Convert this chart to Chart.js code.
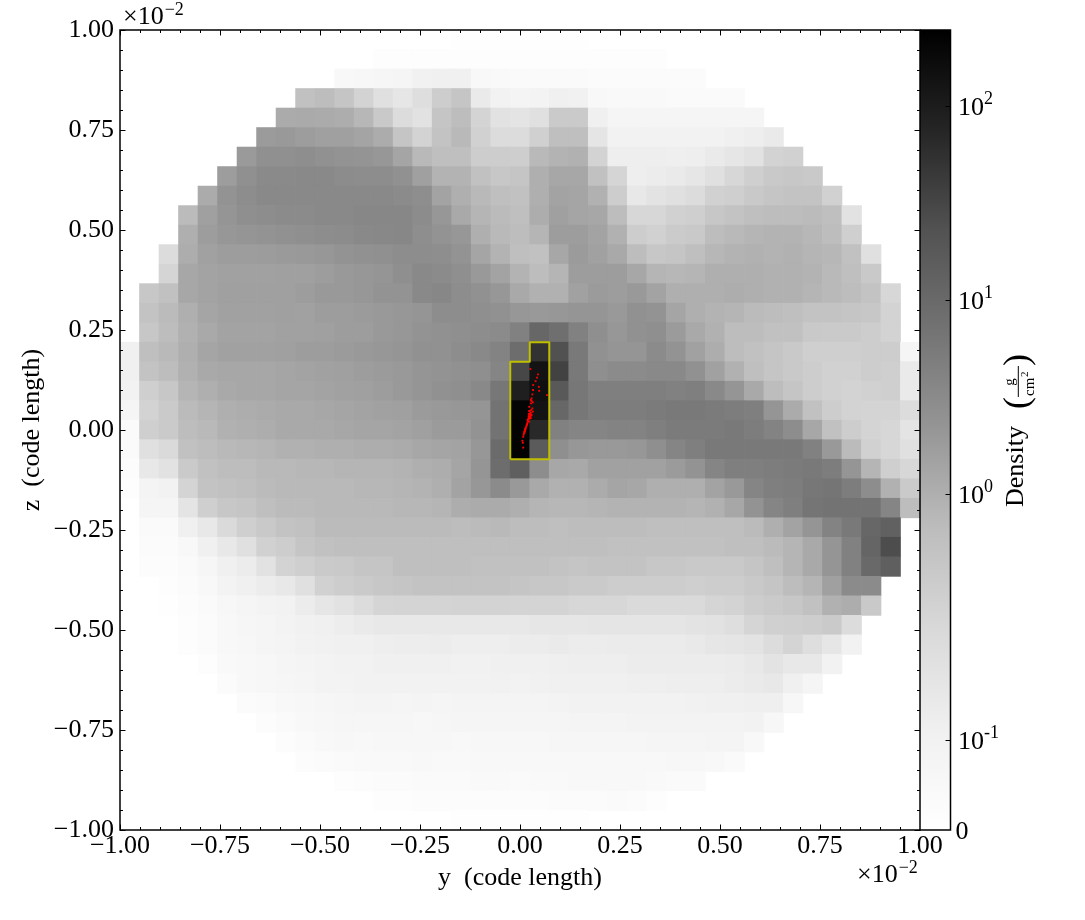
<!DOCTYPE html>
<html>
<head>
<meta charset="utf-8">
<title>Density projection</title>
<script src="https://cdn.jsdelivr.net/npm/chart.js@4/dist/chart.umd.min.js"></script>
<style>
  html, body { margin: 0; padding: 0; background: #fff; }
  #wrap { position: relative; width: 1085px; height: 920px; overflow: hidden; }
  #chartMain { position: absolute; left: 0; top: 0; }
  #chartBar { position: absolute; left: 920px; top: 0; }
</style>
</head>
<body>
<div id="wrap">
  <canvas id="chartMain" width="1085" height="920"></canvas>
  <canvas id="chartBar" width="165" height="920"></canvas>
</div>
<script>
// ===== Data =====
// density per cell (g/cm2), top row first, left to right, 41 x 41. 0 = empty
const densityRows = [
  [0,0,0,0,0,0,0,0,0,0,0,0,0,0,0,0,0,.008,.008,.008,.008,.008,.008,.008,0,0,0,0,0,0,0,0,0,0,0,0,0,0,0,0,0],
  [0,0,0,0,0,0,0,0,0,0,0,0,0,.015,.015,.015,.015,.015,.015,.015,.015,.015,.015,.015,.015,.015,.015,.015,0,0,0,0,0,0,0,0,0,0,0,0,0],
  [0,0,0,0,0,0,0,0,0,0,0,.052,.06,.068,.075,.105,.113,.113,.052,.045,.038,.038,.035,.035,.033,.033,.03,.03,.03,.03,0,0,0,0,0,0,0,0,0,0,0],
  [0,0,0,0,0,0,0,0,0,.55,.65,.47,.26,.19,.16,.2,.335,.47,.142,.098,.082,.09,.113,.105,.052,.045,.045,.045,.038,.038,.038,.038,0,0,0,0,0,0,0,0,0],
  [0,0,0,0,0,0,0,0,1.13,1.16,1.13,1.06,.78,.4,.21,.18,.47,.65,.245,.18,.17,.19,.37,.37,.113,.075,.075,.075,.075,.075,.075,.075,.075,0,0,0,0,0,0,0,0],
  [0,0,0,0,0,0,0,1.82,1.94,1.71,1.56,1.56,1.4,1.1,.47,.26,.51,.735,.28,.21,.21,.29,.6,.6,.167,.098,.098,.098,.098,.098,.1,.113,.123,.142,0,0,0,0,0,0,0],
  [0,0,0,0,0,0,1.88,2.6,2.6,2.8,2.5,2.36,2.28,2.07,1.35,.735,.6,.6,.335,.335,.32,.735,.88,.94,.26,.123,.123,.123,.117,.123,.142,.161,.18,.26,.28,0,0,0,0,0,0],
  [0,0,0,0,0,1.71,2.6,3.2,3.2,3.3,3.3,3,2.9,2.9,2.5,1.6,.88,.88,.55,.43,.47,1,1.27,1.27,.55,.24,.123,.132,.142,.161,.19,.23,.3,.4,.43,.4,0,0,0,0,0],
  [0,0,0,0,1.13,2.36,2.9,3.3,3.3,3.3,3.3,3.3,3.3,3.3,3.1,2.8,1.43,1,.735,.6,.55,1,1.43,1.35,.94,.335,.152,.172,.19,.21,.28,.3,.4,.47,.51,.51,.28,0,0,0,0],
  [0,0,0,.69,1.6,2.2,2.7,2.9,3.1,3.1,3.3,3.3,3.55,3.55,3.55,3,2.07,1.2,.83,.69,.6,1.06,1.6,1.35,1.27,.65,.23,.23,.28,.3,.43,.51,.6,.65,.65,.69,.6,.18,0,0,0],
  [0,0,0,1,1.71,2.07,2.2,2.36,2.5,2.7,2.9,3,3.3,3.45,3.55,2.8,2.36,2.07,1,.735,.65,.83,1.71,1.71,1.43,.94,.335,.28,.36,.4,.65,.735,.83,.88,.88,.78,.65,.3,0,0,0],
  [0,0,.21,1.06,1.52,1.71,1.71,1.76,1.88,1.94,2.07,2.36,2.5,2.6,2.9,2.9,2.8,2.36,1.35,.88,.6,.55,1.27,1.82,1.52,1.2,.65,.43,.47,.6,.78,.88,.94,.88,.94,.83,.78,.55,.19,0,0],
  [0,0,.24,1.27,1.43,1.52,1.52,1.52,1.56,1.6,1.71,1.94,2.07,2.2,2.7,3.3,3.1,2.7,1.94,1.43,.9,.65,.83,1.71,1.71,1.71,1.27,.83,.78,.83,1,1,1,.94,.94,.88,.735,.6,.4,0,0],
  [0,.43,.55,1.27,1.43,1.6,1.6,1.6,1.6,1.71,1.94,1.94,2.07,2.36,2.36,3.3,3.55,2.9,2.5,2.07,1.2,.94,.94,1.52,1.82,1.71,1.94,1.43,1,1,1,1.06,1,.94,.94,.83,.735,.65,.51,.23,0],
  [0,.51,.69,1,1.35,1.52,1.52,1.52,1.6,1.52,1.71,1.71,1.82,1.94,2.07,2.2,2.9,2.9,2.7,2.5,2.1,1.94,2.07,2.2,2.2,1.94,2.5,2.36,1.35,1,.88,.83,.69,.65,.6,.51,.51,.47,.43,.26,0],
  [0,.43,.65,.94,1.2,1.43,1.43,1.43,1.52,1.52,1.6,1.71,1.71,1.94,2.07,2.36,2.5,2.7,2.9,3.1,4.35,10.8,8.1,4.35,2.7,2.07,2.5,2.7,1.82,1.2,.94,.65,.65,.55,.55,.4,.37,.37,.335,.26,0],
  [.113,.6,.735,1,1.35,1.52,1.52,1.52,1.6,1.71,1.71,1.82,1.94,2.07,2.2,2.5,2.5,2.9,3.3,4.1,8.7,54,23.5,5.7,2.5,2.2,2.2,3.1,2.36,1.52,1.06,.65,.55,.47,.4,.31,.31,.31,.335,.335,.075],
  [.113,.51,.65,.94,1.2,1.27,1.27,1.27,1.35,1.43,1.52,1.6,1.71,1.82,1.94,2.2,2.36,2.5,2.7,3.8,31,133,35,5.7,2.7,3.1,3.1,3.3,3.3,2.5,1.52,.94,.6,.47,.4,.335,.28,.28,.335,.31,.142],
  [.098,.31,.43,.83,1,1.2,1.27,1.27,1.35,1.35,1.43,1.52,1.6,1.71,1.94,2.2,2.5,2.7,3.3,6.1,91,152,17.8,6.1,4.65,4.65,4.65,4.65,4.35,4.65,3.3,2.2,1.2,.65,.47,.335,.28,.26,.28,.31,.142],
  [.075,.26,.37,.69,.83,1,1.06,1.13,1.2,1.2,1.27,1.35,1.43,1.52,1.6,1.82,1.94,2.07,2.2,7.1,209,133,10.8,6.1,5,5,5,5.3,5.7,5.7,5.3,5,4.65,2.2,1.13,.55,.335,.26,.245,.245,.21],
  [.038,.3,.37,.65,.735,.94,1,1.06,1.2,1.2,1.2,1.27,1.35,1.35,1.43,1.6,1.82,1.82,2.36,7.1,225,67,4.35,3.8,3.8,4.1,4.1,4.65,5.3,5.3,5.3,5.7,5,4.1,2.9,1.27,.55,.335,.245,.23,.17],
  [.038,.19,.22,.55,.65,.735,.78,.83,.94,.94,1,1,1.06,1.06,1.13,1.27,1.35,1.43,2.07,9.4,225,16.6,2.7,2.07,1.94,1.94,2.07,2.7,3.8,4.65,5.7,5.7,5.7,5.7,5.7,4.35,1.94,.69,.28,.23,.19],
  [.023,.152,.18,.37,.55,.65,.65,.735,.735,.78,.78,.83,.83,.83,.88,1,1.06,1.35,2.2,8.7,14.3,2.9,1.27,1.2,1.52,1.52,1.52,1.52,1.85,2.36,3.8,4.65,4.65,5,5.3,5.7,5,2.2,.83,.31,.23],
  [.015,.082,.098,.25,.51,.55,.6,.69,.735,.735,.735,.735,.78,.78,.83,.88,1,1.43,2.07,3.1,1.94,1.2,.94,.94,1.13,1.35,1.27,1,1,1,1.43,1.94,3.8,4.65,5,6.1,6.5,5,2.9,.94,.37],
  [0,.075,.075,.17,.31,.43,.47,.6,.69,.69,.735,.735,.735,.735,.78,.78,.83,1.06,1.13,1.13,1,.83,.78,.78,.83,.88,.88,.88,.88,.83,.94,1.27,2.36,3.8,4.65,6.5,7.1,7.1,7.1,3.8,.65],
  [0,.038,.038,.113,.152,.22,.31,.4,.51,.55,.69,.69,.69,.69,.69,.69,.69,.65,.69,.735,.65,.65,.6,.65,.65,.65,.65,.6,.6,.6,.6,.6,.69,1,1.43,2.2,4.1,5.7,10.8,13.4,0],
  [0,.03,.03,.052,.113,.152,.19,.28,.335,.47,.55,.6,.6,.6,.6,.6,.6,.6,.6,.6,.6,.6,.6,.6,.6,.55,.55,.55,.55,.55,.55,.6,.6,.69,.83,1.2,2.2,4.35,11.7,26,0],
  [0,.023,.023,.038,.068,.113,.132,.18,.26,.31,.37,.4,.47,.47,.6,.6,.6,.6,.55,.55,.55,.55,.51,.47,.51,.51,.51,.43,.43,.4,.4,.4,.47,.6,.83,1.2,2.2,4.35,10,14.3,0],
  [0,0,.015,.03,.052,.09,.113,.132,.152,.19,.28,.335,.37,.43,.47,.51,.51,.51,.51,.51,.47,.43,.43,.37,.37,.335,.335,.335,.335,.31,.335,.335,.4,.47,.65,.83,1.6,3.1,3.1,0,0],
  [0,0,.008,.023,.038,.06,.075,.09,.098,.132,.161,.18,.21,.24,.245,.245,.245,.26,.26,.26,.245,.245,.245,.23,.23,.23,.22,.22,.22,.22,.24,.26,.335,.37,.43,.55,.94,1.06,.4,0,0],
  [0,0,0,.015,.03,.052,.068,.075,.09,.105,.113,.127,.142,.152,.152,.152,.152,.152,.152,.152,.152,.161,.161,.161,.167,.167,.167,.167,.167,.172,.177,.2,.24,.29,.31,.335,.37,.21,0,0,0],
  [0,0,0,.015,.03,.052,.06,.075,.082,.098,.105,.113,.113,.123,.127,.127,.132,.123,.123,.123,.132,.132,.142,.132,.132,.137,.137,.137,.137,.147,.161,.167,.172,.21,.245,.2,.161,.098,0,0,0],
  [0,0,0,0,.015,.045,.052,.06,.075,.082,.09,.098,.098,.113,.113,.113,.113,.105,.105,.113,.113,.113,.117,.123,.123,.123,.132,.132,.132,.132,.132,.137,.152,.172,.152,.152,.098,0,0,0,0],
  [0,0,0,0,0,.03,.052,.06,.068,.075,.09,.09,.098,.098,.098,.098,.098,.098,.098,.105,.098,.105,.113,.113,.113,.113,.117,.117,.123,.123,.123,.132,.142,.152,.113,.075,0,0,0,0,0],
  [0,0,0,0,0,0,.03,.038,.052,.06,.068,.075,.082,.082,.075,.082,.075,.082,.082,.082,.082,.082,.09,.098,.098,.098,.098,.098,.098,.105,.113,.113,.117,.117,.06,0,0,0,0,0,0],
  [0,0,0,0,0,0,0,.023,.038,.052,.06,.068,.068,.068,.068,.06,.068,.075,.075,.075,.075,.075,.075,.082,.082,.082,.09,.09,.09,.09,.09,.09,.098,.06,0,0,0,0,0,0,0],
  [0,0,0,0,0,0,0,0,.023,.038,.052,.06,.052,.06,.06,.06,.06,.052,.06,.06,.06,.06,.068,.068,.068,.068,.068,.075,.075,.075,.082,.082,.052,0,0,0,0,0,0,0,0],
  [0,0,0,0,0,0,0,0,0,.023,.03,.038,.045,.045,.045,.052,.045,.045,.052,.052,.052,.052,.052,.052,.052,.052,.052,.052,.06,.06,.052,.038,0,0,0,0,0,0,0,0,0],
  [0,0,0,0,0,0,0,0,0,0,0,.015,.023,.03,.03,.038,.038,.038,.045,.045,.038,.045,.045,.052,.052,.052,.052,.045,.038,.038,0,0,0,0,0,0,0,0,0,0,0],
  [0,0,0,0,0,0,0,0,0,0,0,0,0,.015,.015,.023,.023,.023,.023,.023,.023,.023,.03,.03,.03,.038,.03,.015,0,0,0,0,0,0,0,0,0,0,0,0,0],
  [0,0,0,0,0,0,0,0,0,0,0,0,0,0,0,0,0,.008,.008,.008,.008,.008,.008,.008,0,0,0,0,0,0,0,0,0,0,0,0,0,0,0,0,0],
];

// contour outline and particles, in the axis units (x 10^-2 code length)
const contourY = [-.0244, -.0244, .0244, .0244, .0732, .0732, -.0244];
const contourZ = [-.0732, .1707, .1707, .2195, .2195, -.0732, -.0732];
const particleY = [.026,.045,.0425,.039,.033,.047,.048,.0325,.031,.0675,.029,.027,.032,.023,.031,.023,.032,.022,.029,.025,.019,.023,.017,.015,.0125,.01,.008,.006,.007,.008,.0108,.0133,.0183,.0208,.0217,.0267,.025,.0283,.029,.0275,.009,.0115,.0125,.014,.016,.0175,.019,.02,.022,.0235,.024,.026,.027,.024,.022,.027];
const particleZ = [.1525,.139,.131,.122,.1125,.108,.098,.1,.089,.087,.079,.075,.069,.058,.054,.0475,.046,.035,.0375,.029,.025,.021,.0125,.0067,-.002,-.008,-.017,-.027,-.032,-.044,-.004,.001,.016,.0275,.0325,.035,.0417,.05,.0725,.0667,-.012,-.006,.002,.004,.01,.014,.019,.022,.028,.03,.034,.039,.043,.047,.04,.03];

// colorbar
const DENSITY_MAX = 247;
const LIN_THRESH = 0.24;
const LIN_SCALE = 1.111;
const barTicks = [0.1, 1, 10, 100];
const barTickExp = ['-1', '0', '1', '2'];
// Greys colormap, white to black
const greyStops = [255, 240, 217, 189, 150, 115, 82, 37, 0];

const SERIF = '"Liberation Serif", "DejaVu Serif", serif';
const TICK_FONT = '26px ' + SERIF;
const SUP_FONT = '18px ' + SERIF;

// ===== Helpers =====
const symlog = (v) => v <= LIN_THRESH ? LIN_SCALE * v / LIN_THRESH : LIN_SCALE + Math.log10(v / LIN_THRESH);
const T_MAX = symlog(DENSITY_MAX);

function greyColor(v) {
  const f = Math.min(symlog(v) / T_MAX, 1) * (greyStops.length - 1);
  const i = Math.min(Math.floor(f), greyStops.length - 2);
  const g = Math.round(greyStops[i] + (greyStops[i + 1] - greyStops[i]) * (f - i));
  return `rgb(${g},${g},${g})`;
}

const NCELL = densityRows.length;
const CELL = 2 / NCELL;
const cells = [];
densityRows.forEach((row, i) => row.forEach((v, j) => {
  if (v > 0) cells.push({ x: -1 + (j + .5) * CELL, y: 1 - (i + .5) * CELL, v });
}));

const fmtTick = (v) => (v < 0 ? '\u2212' : '') + Math.abs(v).toFixed(2);

// ===== Frame and inward ticks, all four sides =====
const frameTicks = {
  id: 'frameTicks',
  afterDatasetsDraw(chart) {
    const { ctx, chartArea: a, scales: { x, y } } = chart;
    ctx.save();
    ctx.strokeStyle = '#000';
    ctx.beginPath();
    ctx.lineWidth = 1;
    for (let k = -20; k <= 20; k++) {
      const major = k % 5 === 0;
      const len = major ? 5.5 : 3;
      const v = k * .05;
      const px = Math.round(x.getPixelForValue(v)) + .5;
      const py = Math.round(y.getPixelForValue(v)) + .5;
      ctx.moveTo(px, a.bottom); ctx.lineTo(px, a.bottom - len);
      ctx.moveTo(px, a.top); ctx.lineTo(px, a.top + len);
      ctx.moveTo(a.left, py); ctx.lineTo(a.left + len, py);
      ctx.moveTo(a.right, py); ctx.lineTo(a.right - len, py);
    }
    ctx.stroke();
    ctx.lineWidth = 1.5;
    ctx.strokeRect(a.left, a.top, a.right - a.left, a.bottom - a.top);

    // offset text
    ctx.fillStyle = '#000';
    ctx.textBaseline = 'alphabetic';
    ctx.textAlign = 'left';
    [[123, 24], [857, 882]].forEach(([tx, ty]) => {
      ctx.font = TICK_FONT;
      ctx.fillText('\u00d710', tx, ty);
      const w = ctx.measureText('\u00d710').width;
      ctx.font = SUP_FONT;
      ctx.fillText('\u22122', tx + w + 1, ty - 9);
    });
    ctx.restore();
  }
};

// ===== Colorbar ticks and label =====
const barDecor = {
  id: 'barDecor',
  afterDatasetsDraw(chart) {
    const { ctx, chartArea: a, scales: { y } } = chart;
    ctx.save();
    ctx.strokeStyle = '#000';
    ctx.fillStyle = '#000';
    ctx.lineWidth = 1.5;
    ctx.strokeRect(a.left, a.top, a.right - a.left, a.bottom - a.top);
    ctx.lineWidth = 1;
    ctx.textBaseline = 'alphabetic';
    ctx.textAlign = 'left';
    const labelX = a.right + 7.5;

    ctx.font = TICK_FONT;
    ctx.fillText('0', a.right + 5, y.getPixelForValue(0) + 9);

    barTicks.forEach((v, i) => {
      const py = Math.round(y.getPixelForValue(symlog(v))) + .5;
      ctx.beginPath();
      ctx.moveTo(a.right, py); ctx.lineTo(a.right - 5, py);
      ctx.stroke();
      ctx.font = TICK_FONT;
      ctx.fillText('10', labelX, py + 8);
      ctx.font = SUP_FONT;
      ctx.fillText(barTickExp[i], labelX + 26, py - 3);
    });

    // rotated label, u runs up the page
    ctx.translate(a.right + 72.5, 507);
    ctx.rotate(-Math.PI / 2);
    ctx.font = '26px ' + SERIF;
    ctx.fillText('Density', 0, 0);
    ctx.font = '36px ' + SERIF;
    ctx.textBaseline = 'middle';
    ctx.fillText('(', 98, -4);
    ctx.fillText(')', 141, -4);
    ctx.textBaseline = 'alphabetic';
    ctx.font = '15px ' + SERIF;
    ctx.textAlign = 'center';
    ctx.fillText('g', 125, -9);
    ctx.textAlign = 'left';
    ctx.fillText('cm', 111, 11);
    ctx.font = '11px ' + SERIF;
    ctx.fillText('2', 130, 5);
    ctx.beginPath();
    ctx.moveTo(110, -4.7); ctx.lineTo(141, -4.7);
    ctx.stroke();
    ctx.restore();
  }
};

// ===== Main chart =====
new Chart(document.getElementById('chartMain'), {
  type: 'scatter',
  data: {
    datasets: [
      {
        label: 'particles',
        order: 0,
        data: particleY.map((y, i) => ({ x: y, y: particleZ[i] })),
        pointStyle: 'rect',
        pointRadius: 1.3,
        pointBorderWidth: 0,
        pointBackgroundColor: '#ff0000',
      },
      {
        label: 'contour',
        order: 1,
        data: contourY.map((y, i) => ({ x: y, y: contourZ[i] })),
        showLine: true,
        pointRadius: 0,
        borderColor: '#bfbf00',
        borderWidth: 2,
        borderJoinStyle: 'round',
      },
      {
        label: 'Density',
        order: 2,
        data: cells,
        pointStyle: 'rect',
        pointBorderWidth: 0,
        pointRadius: (c) => {
          const s = c.chart.scales.x;
          return (Math.abs(s.getPixelForValue(CELL) - s.getPixelForValue(0)) + .7) * Math.SQRT1_2;
        },
        pointBackgroundColor: (c) => c.raw ? greyColor(c.raw.v) : '#fff',
      },
    ],
  },
  options: {
    responsive: false,
    animation: false,
    devicePixelRatio: 1,
    layout: { padding: { top: 30, right: 165, left: 0, bottom: 0 } },
    plugins: { legend: { display: false }, tooltip: { enabled: false } },
    events: [],
    scales: {
      x: {
        type: 'linear', min: -1, max: 1,
        afterFit: (s) => { s.height = 90; },
        grid: { display: false, drawTicks: false },
        border: { display: false },
        ticks: {
          stepSize: .25, autoSkip: false, maxRotation: 0, padding: 1,
          color: '#000', font: { family: SERIF, size: 26 },
          callback: fmtTick,
        },
        title: {
          display: true, text: 'y  (code length)', color: '#000',
          font: { family: SERIF, size: 26 }, padding: { top: 0, bottom: 26 },
        },
      },
      y: {
        type: 'linear', min: -1, max: 1,
        afterFit: (s) => { s.width = 120; },
        grid: { display: false, drawTicks: false },
        border: { display: false },
        ticks: {
          stepSize: .25, autoSkip: false, padding: 6,
          color: '#000', font: { family: SERIF, size: 26 },
          callback: fmtTick,
        },
        title: {
          display: true, text: 'z  (code length)', color: '#000',
          font: { family: SERIF, size: 26 }, padding: { top: 17, bottom: 0 },
        },
      },
    },
  },
  plugins: [frameTicks],
});

// ===== Colorbar =====
new Chart(document.getElementById('chartBar'), {
  type: 'bar',
  data: {
    labels: ['Density'],
    datasets: [{
      data: [[0, T_MAX]],
      barPercentage: 1,
      categoryPercentage: 1,
      backgroundColor: (c) => {
        const { ctx, chartArea: a } = c.chart;
        if (!a) return '#888';
        const grad = ctx.createLinearGradient(0, a.bottom, 0, a.top);
        greyStops.forEach((g, i) => grad.addColorStop(i / (greyStops.length - 1), `rgb(${g},${g},${g})`));
        return grad;
      },
    }],
  },
  options: {
    responsive: false,
    animation: false,
    devicePixelRatio: 1,
    events: [],
    layout: { padding: { top: 30, bottom: 90, left: 0, right: 134.5 } },
    plugins: { legend: { display: false }, tooltip: { enabled: false } },
    scales: {
      x: { display: false },
      y: { display: false, type: 'linear', min: 0, max: T_MAX },
    },
  },
  plugins: [barDecor],
});
</script>
</body>
</html>
